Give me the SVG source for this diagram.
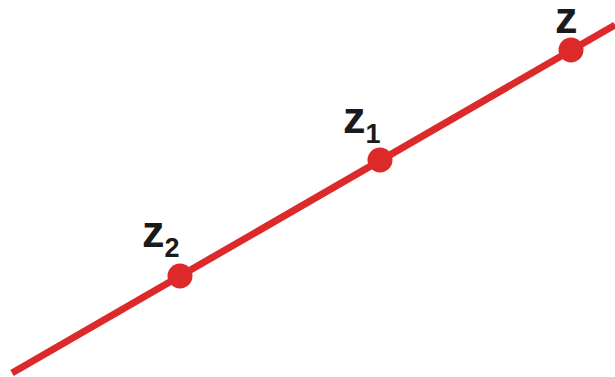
<svg xmlns="http://www.w3.org/2000/svg" width="615" height="377" viewBox="0 0 615 377">
<style>
.ln{stroke:#dc2a2a;stroke-width:7;fill:none}
.pt{fill:#dc2a2a}
.lb{font-family:"Liberation Sans",Arial,sans-serif;font-weight:bold;font-size:45px;fill:#1a1a1a}
.sb{font-size:27px}
</style>
<g id="connectors">
<line class="ln" x1="12" y1="373" x2="615" y2="25"/>
</g>
<g id="z2"><circle class="pt" cx="180" cy="276" r="12.5"/><text class="lb" x="142" y="247">z<tspan class="sb" dy="10">2</tspan></text></g>
<g id="z1"><circle class="pt" cx="380" cy="160" r="12.5"/><text class="lb" x="343" y="133">z<tspan class="sb" dy="10">1</tspan></text></g>
<g id="z"><circle class="pt" cx="571" cy="50" r="12.5"/><text class="lb" x="555" y="33">z</text></g>
</svg>
